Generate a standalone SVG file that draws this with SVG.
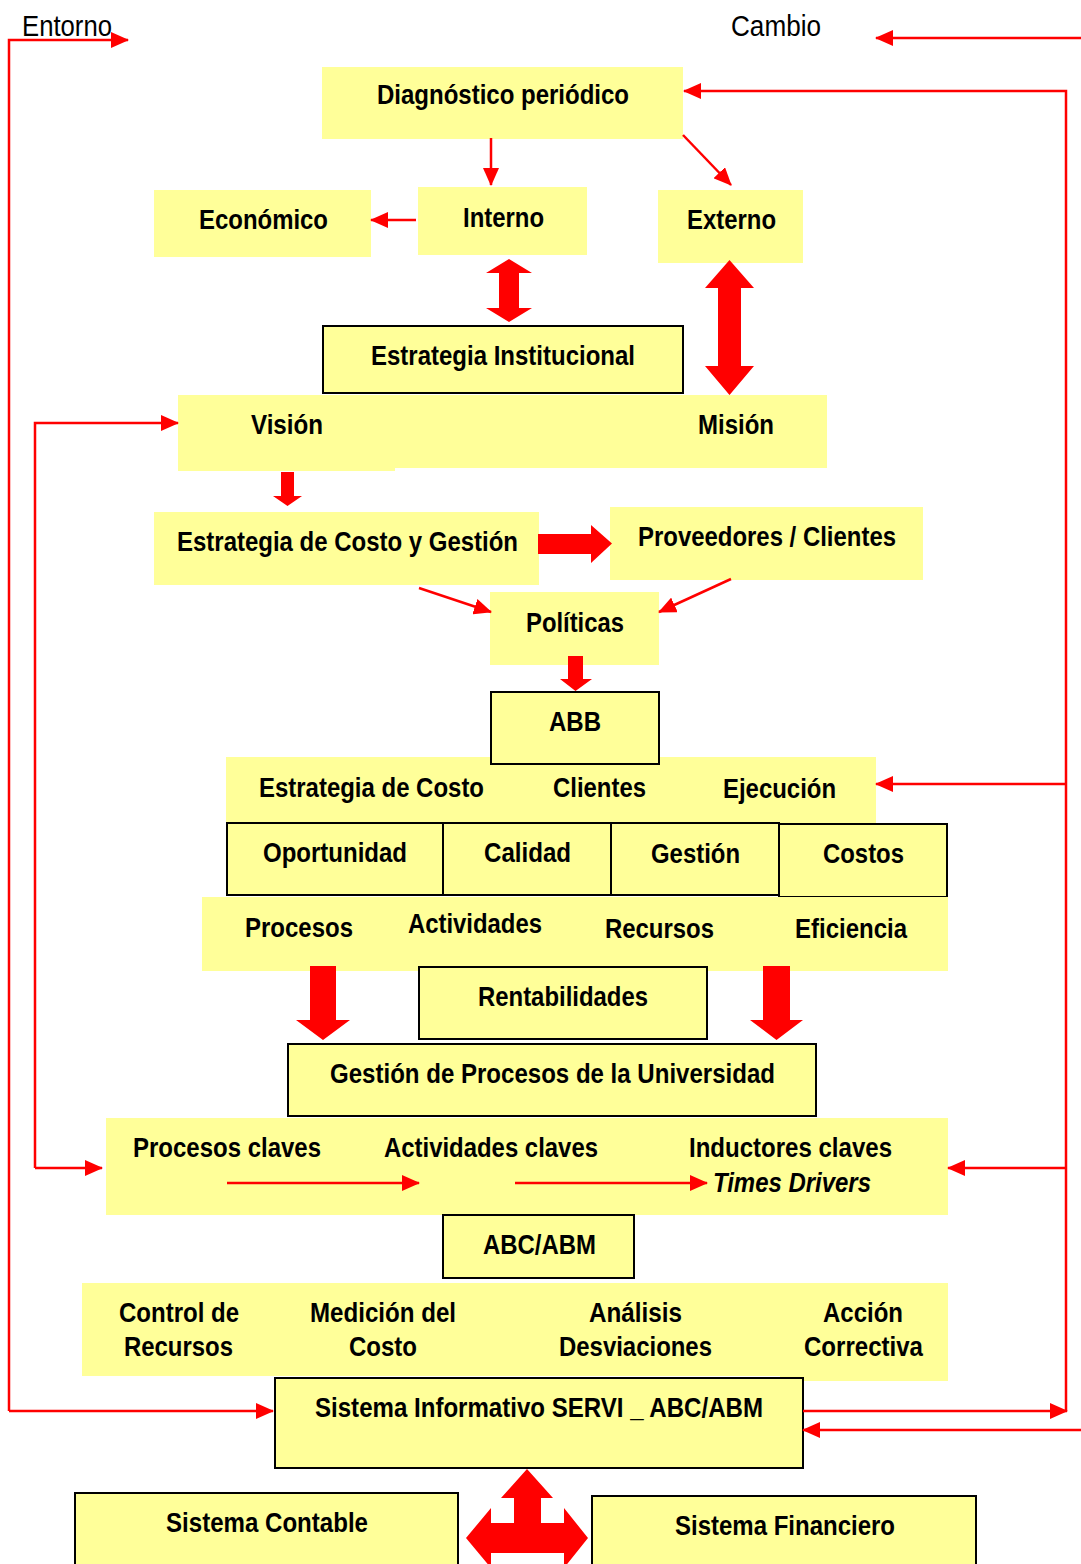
<svg xmlns="http://www.w3.org/2000/svg" width="1081" height="1564" viewBox="0 0 1081 1564">
<style>
.bx{fill:#FFFF99;stroke:none}
.bb{fill:#FFFF99;stroke:#000;stroke-width:2}
.t{font-family:"Liberation Sans Narrow","Arial Narrow","Liberation Sans",Arial,sans-serif;font-weight:bold;font-size:28px;fill:#000}
.n{font-family:"Liberation Sans Narrow","Arial Narrow","Liberation Sans",Arial,sans-serif;font-weight:normal;font-size:29px;fill:#000}
.c{fill:none;stroke:#FF0000;stroke-width:2.5}
.blk{fill:#FF0000;stroke:none}
</style>
<defs>
<marker id="ah" markerUnits="userSpaceOnUse" markerWidth="18" markerHeight="16" refX="17" refY="8" orient="auto">
<path d="M0,0 L18,8 L0,16 Z" fill="#FF0000"/>
</marker>
</defs>

<g id="entorno"><text class="n" x="22" y="36" textLength="90" lengthAdjust="spacingAndGlyphs">Entorno</text></g>
<g id="cambio"><text class="n" x="731" y="36" textLength="90" lengthAdjust="spacingAndGlyphs">Cambio</text></g>

<g id="diagnostico"><rect class="bx" x="322" y="67" width="361" height="72"/>
<text class="t" x="377" y="104" textLength="252" lengthAdjust="spacingAndGlyphs">Diagnóstico periódico</text></g>

<g id="economico"><rect class="bx" x="154" y="190" width="217" height="67"/>
<text class="t" x="199" y="229" textLength="129" lengthAdjust="spacingAndGlyphs">Económico</text></g>

<g id="interno"><rect class="bx" x="418" y="187" width="169" height="68"/>
<text class="t" x="463" y="227" textLength="81" lengthAdjust="spacingAndGlyphs">Interno</text></g>

<g id="externo"><rect class="bx" x="658" y="190" width="145" height="73"/>
<text class="t" x="687" y="229" textLength="89" lengthAdjust="spacingAndGlyphs">Externo</text></g>

<g id="vision-mision"><rect class="bx" x="178" y="395" width="649" height="73"/>
<rect class="bx" x="178" y="460" width="217" height="11"/>
<text class="t" x="251" y="434" textLength="72" lengthAdjust="spacingAndGlyphs">Visión</text>
<text class="t" x="698" y="434" textLength="76" lengthAdjust="spacingAndGlyphs">Misión</text></g>

<g id="estrategia-institucional"><rect class="bb" x="323" y="326" width="360" height="67"/>
<text class="t" x="371" y="365" textLength="264" lengthAdjust="spacingAndGlyphs">Estrategia Institucional</text></g>

<g id="estrategia-costo-gestion"><rect class="bx" x="154" y="512" width="385" height="73"/>
<text class="t" x="177" y="551" textLength="341" lengthAdjust="spacingAndGlyphs">Estrategia de Costo y Gestión</text></g>

<g id="proveedores"><rect class="bx" x="610" y="507" width="313" height="73"/>
<text class="t" x="638" y="546" textLength="258" lengthAdjust="spacingAndGlyphs">Proveedores / Clientes</text></g>

<g id="politicas"><rect class="bx" x="490" y="592" width="169" height="73"/>
<text class="t" x="526" y="632" textLength="98" lengthAdjust="spacingAndGlyphs">Políticas</text></g>

<g id="fila-estrategia"><rect class="bx" x="226" y="757" width="650" height="66"/>
<text class="t" x="259" y="797" textLength="225" lengthAdjust="spacingAndGlyphs">Estrategia de Costo</text>
<text class="t" x="553" y="797" textLength="93" lengthAdjust="spacingAndGlyphs">Clientes</text>
<text class="t" x="723" y="798" textLength="113" lengthAdjust="spacingAndGlyphs">Ejecución</text></g>

<g id="abb"><rect class="bb" x="491" y="692" width="168" height="72"/>
<text class="t" x="549" y="731" textLength="52" lengthAdjust="spacingAndGlyphs">ABB</text></g>

<g id="oportunidad"><rect class="bb" x="227" y="823" width="216" height="72"/>
<text class="t" x="263" y="862" textLength="144" lengthAdjust="spacingAndGlyphs">Oportunidad</text></g>
<g id="calidad"><rect class="bb" x="443" y="823" width="168" height="72"/>
<text class="t" x="484" y="862" textLength="87" lengthAdjust="spacingAndGlyphs">Calidad</text></g>
<g id="gestion"><rect class="bb" x="611" y="823" width="168" height="72"/>
<text class="t" x="651" y="863" textLength="89" lengthAdjust="spacingAndGlyphs">Gestión</text></g>
<g id="costos"><rect class="bb" x="779" y="824" width="168" height="73"/>
<text class="t" x="823" y="863" textLength="81" lengthAdjust="spacingAndGlyphs">Costos</text></g>

<g id="fila-procesos"><rect class="bx" x="202" y="897" width="746" height="74"/>
<text class="t" x="245" y="937" textLength="108" lengthAdjust="spacingAndGlyphs">Procesos</text>
<text class="t" x="408" y="933" textLength="134" lengthAdjust="spacingAndGlyphs">Actividades</text>
<text class="t" x="605" y="938" textLength="109" lengthAdjust="spacingAndGlyphs">Recursos</text>
<text class="t" x="795" y="938" textLength="112" lengthAdjust="spacingAndGlyphs">Eficiencia</text></g>

<g id="rentabilidades"><rect class="bb" x="419" y="967" width="288" height="72"/>
<text class="t" x="478" y="1006" textLength="170" lengthAdjust="spacingAndGlyphs">Rentabilidades</text></g>

<g id="gestion-procesos"><rect class="bb" x="288" y="1044" width="528" height="72"/>
<text class="t" x="330" y="1083" textLength="445" lengthAdjust="spacingAndGlyphs">Gestión de Procesos de la Universidad</text></g>

<g id="procesos-claves"><rect class="bx" x="106" y="1118" width="842" height="97"/>
<text class="t" x="133" y="1157" textLength="188" lengthAdjust="spacingAndGlyphs">Procesos claves</text>
<text class="t" x="384" y="1157" textLength="214" lengthAdjust="spacingAndGlyphs">Actividades claves</text>
<text class="t" x="689" y="1157" textLength="203" lengthAdjust="spacingAndGlyphs">Inductores claves</text>
<text class="t" x="713" y="1192" textLength="158" lengthAdjust="spacingAndGlyphs" font-style="italic">Times Drivers</text></g>

<g id="abc-abm"><rect class="bb" x="443" y="1215" width="191" height="63"/>
<text class="t" x="483" y="1254" textLength="113" lengthAdjust="spacingAndGlyphs">ABC/ABM</text></g>

<g id="fila-control"><rect class="bx" x="82" y="1283" width="866" height="93"/>
<rect class="bx" x="780" y="1370" width="168" height="11"/>
<text class="t" x="119" y="1322" textLength="120" lengthAdjust="spacingAndGlyphs">Control de</text>
<text class="t" x="124" y="1356" textLength="109" lengthAdjust="spacingAndGlyphs">Recursos</text>
<text class="t" x="310" y="1322" textLength="146" lengthAdjust="spacingAndGlyphs">Medición del</text>
<text class="t" x="349" y="1356" textLength="68" lengthAdjust="spacingAndGlyphs">Costo</text>
<text class="t" x="589" y="1322" textLength="93" lengthAdjust="spacingAndGlyphs">Análisis</text>
<text class="t" x="559" y="1356" textLength="153" lengthAdjust="spacingAndGlyphs">Desviaciones</text>
<text class="t" x="823" y="1322" textLength="80" lengthAdjust="spacingAndGlyphs">Acción</text>
<text class="t" x="804" y="1356" textLength="119" lengthAdjust="spacingAndGlyphs">Correctiva</text></g>

<g id="sistema-informativo"><rect class="bb" x="275" y="1378" width="528" height="90"/>
<text class="t" x="315" y="1417" textLength="448" lengthAdjust="spacingAndGlyphs">Sistema Informativo SERVI _ ABC/ABM</text></g>

<g id="sistema-contable"><rect class="bb" x="75" y="1493" width="383" height="80"/>
<text class="t" x="166" y="1532" textLength="202" lengthAdjust="spacingAndGlyphs">Sistema Contable</text></g>

<g id="sistema-financiero"><rect class="bb" x="592" y="1496" width="384" height="80"/>
<text class="t" x="675" y="1535" textLength="220" lengthAdjust="spacingAndGlyphs">Sistema Financiero</text></g>

<g id="connectors">
<path class="c" d="M9,1411 L9,40 L128,40" marker-end="url(#ah)"/>
<path class="c" d="M9,1411 L273,1411" marker-end="url(#ah)"/>
<path class="c" d="M1081,38 L876,38" marker-end="url(#ah)"/>
<path class="c" d="M1066,1411 L1066,91 L684,91" marker-end="url(#ah)"/>
<path class="c" d="M1066,784 L876,784" marker-end="url(#ah)"/>
<path class="c" d="M1066,1168 L948,1168" marker-end="url(#ah)"/>
<path class="c" d="M803,1411 L1067,1411" marker-end="url(#ah)"/>
<path class="c" d="M1081,1430 L803,1430" marker-end="url(#ah)"/>
<path class="c" d="M35,1168 L35,423 L178,423" marker-end="url(#ah)"/>
<path class="c" d="M35,1168 L102,1168" marker-end="url(#ah)"/>
<path class="c" d="M491,138 L491,185" marker-end="url(#ah)"/>
<path class="c" d="M683,135 L731,185" marker-end="url(#ah)"/>
<path class="c" d="M416,220 L371,220" marker-end="url(#ah)"/>
<path class="c" d="M419,588 L491,612" marker-end="url(#ah)"/>
<path class="c" d="M731,579 L659,612" marker-end="url(#ah)"/>
<path class="c" d="M227,1183 L419,1183" marker-end="url(#ah)"/>
<path class="c" d="M515,1183 L707,1183" marker-end="url(#ah)"/>
<polygon class="blk" points="509,259 532,273 519,273 519,308 532,308 509,322 486,308 499,308 499,273 486,273"/>
<polygon class="blk" points="729.5,260 754,288 741,288 741,366 754,366 729.5,395 705,366 718,366 718,288 705,288"/>
<polygon class="blk" points="281,472 294,472 294,496 302,496 287.5,506 273,496 281,496"/>
<polygon class="blk" points="538,534 591,534 591,525 612,543.5 591,563 591,554 538,554"/>
<polygon class="blk" points="568,656 583,656 583,679 592,679 575.5,691 560,679 568,679"/>
<polygon class="blk" points="310,966 336,966 336,1020 350,1020 323,1040 296,1020 310,1020"/>
<polygon class="blk" points="763,966 790,966 790,1020 803,1020 776.5,1040 750,1020 763,1020"/>
<polygon class="blk" points="527,1469 553,1498 541,1498 541,1523 564,1523 564,1508 588,1538 564,1568 564,1553 491,1553 491,1568 466,1538 491,1508 491,1523 514,1523 514,1498 501,1498"/>
</g>
</svg>
